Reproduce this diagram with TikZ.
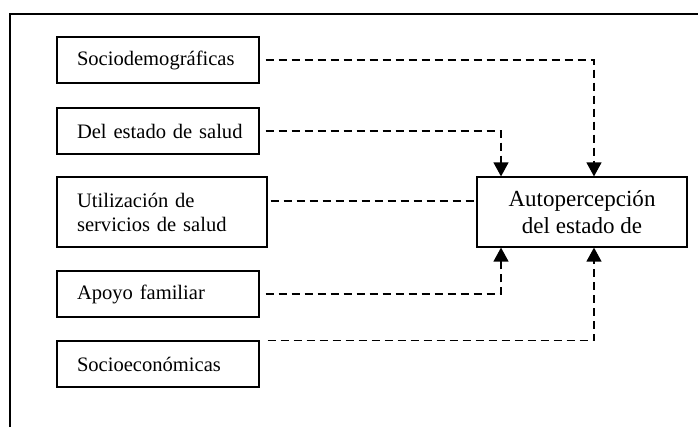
\documentclass[tikz,border=0pt]{standalone}
\usepackage{fontspec}
\setmainfont{Liberation Serif}
\usetikzlibrary{arrows.meta}

\begin{document}
\begin{tikzpicture}[x=0.02cm,y=-0.02cm,
  factor/.style={draw,line width=0.7pt,align=left,inner xsep=0.3cm,
    text width=3.44cm,minimum height=0.92cm,font=\fontsize{11.7}{13.7}\selectfont,
    execute at begin node={\leftskip=0.1cm}},
  link/.style={dash pattern=on 0.16cm off 0.1cm,line width=0.7pt},
  tip/.style={-{Triangle[width=0.3cm,length=0.28cm]}}]%<<<
\useasboundingbox (0,0) rectangle (698,427);
\draw[line width=0.8pt] (10,427) -- (10,14) -- (698,14);
\node[factor] (socdem) at (158,60) {Sociodemográficas};
\node[factor] (salud) at (158,131) {Del estado de salud};
\node[factor,text width=3.6cm,minimum height=1.4cm] (servicios) at (162,212)
  {Utilización de\\servicios de salud};
\node[factor] (apoyo) at (158,294) {Apoyo familiar};
\node[factor] (socecon) at (158,364) {Socioeconómicas};
\node[draw,line width=0.7pt,align=center,minimum width=4.2cm,minimum height=1.4cm,
  font=\fontsize{13.1}{15.4}\selectfont] (autop) at (582,212)
  {Autopercepción\\del estado de};
\draw[link,tip] ([xshift=0.12cm]socdem.east) -| ([xshift=0.24cm]autop.north);
\draw[link,tip] ([xshift=0.12cm]salud.east) -| ([xshift=-1.62cm]autop.north);
\draw[link] ([shift={(0.06cm,0.22cm)}]servicios.east) coordinate (s) -- (s -| autop.west);
\draw[link,tip] ([xshift=0.12cm]apoyo.east) -| ([xshift=-1.62cm]autop.south);
\draw[link,tip] ([xshift=0.16cm]socecon.north east) -| ([xshift=0.24cm]autop.south);
\end{tikzpicture}
\end{document}
